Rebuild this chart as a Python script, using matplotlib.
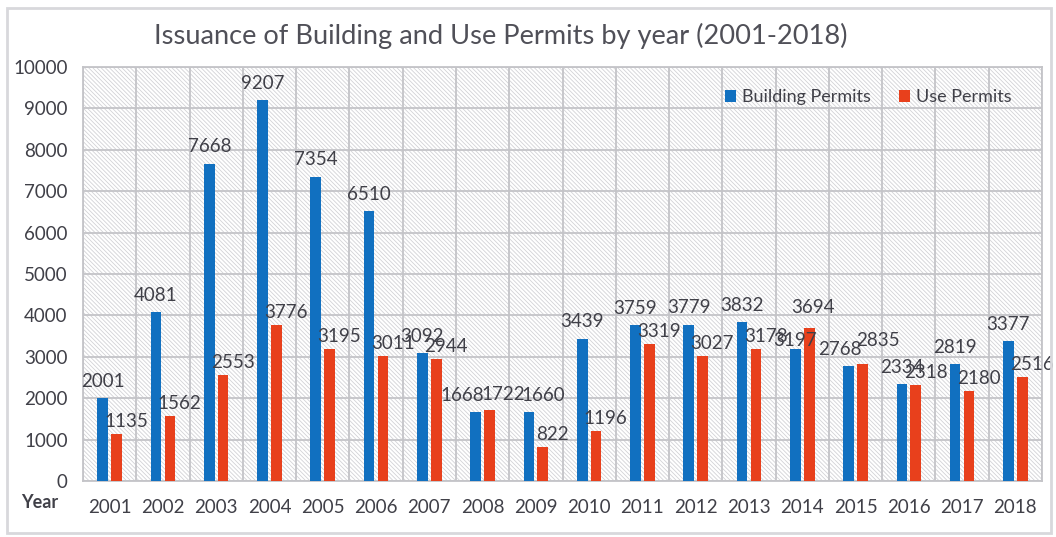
import numpy as np
import matplotlib.pyplot as plt
from matplotlib.patches import Rectangle

plt.rcParams['font.family'] = ['Lato', 'DejaVu Sans']
plt.rcParams['hatch.linewidth'] = 0.6

# data
years = [str(y) for y in range(2001, 2019)]
building = [2001, 4081, 7668, 9207, 7354, 6510, 3092, 1668, 1660,
            3439, 3759, 3779, 3832, 3197, 2768, 2334, 2819, 3377]
use = [1135, 1562, 2553, 3776, 3195, 3011, 2944, 1722, 822,
       1196, 3319, 3027, 3178, 3694, 2835, 2318, 2180, 2516]

txt = '#404048'
blue = '#1170c0'
red = '#e8401c'
gridc = '#c4c4c8'

# small hand nudges of a few crowded labels (points), as in the original
nudge_b = {'2008': (-10, 0), '2009': (10, 0), '2015': (-6, 0), '2014': (0, -6)}
nudge_r = {'2008': (3, 2), '2015': (4, 8), '2014': (-4, 6)}

fig = plt.figure(figsize=(10.56, 5.37), dpi=100)
ax = fig.add_axes([83/1056, 56/537, 959/1056, 414/537])

# outer frame of the chart
fig.patches.append(Rectangle((7/1056, 4/537), 1044/1056, 525/537,
                             transform=fig.transFigure, fill=False,
                             edgecolor='#d8d8dc', lw=2))

# hatched background
ax.add_patch(Rectangle((0, 0), 1, 1, transform=ax.transAxes, facecolor='white',
                       edgecolor='#d2d2d6', hatch='\\' * 8, lw=0, zorder=0))

x = np.arange(len(years))
w = 0.2
off = 0.13
ax.bar(x - off, building, w, color=blue, label='Building Permits', zorder=3)
ax.bar(x + off, use, w, color=red, label='Use Permits', zorder=3)

for xi, yr, v in zip(x, years, building):
    dx, dy = nudge_b.get(yr, (0, 0))
    ax.annotate(str(v), (xi - off, v), xytext=(dx, 12 + dy), textcoords='offset points',
                ha='center', va='center', fontsize=13.5, color=txt, zorder=4)
for xi, yr, v in zip(x, years, use):
    dx, dy = nudge_r.get(yr, (0, 0))
    ax.annotate(str(v), (xi + off, v), xytext=(7 + dx, 9 + dy), textcoords='offset points',
                ha='center', va='center', fontsize=13.5, color=txt, zorder=4)

ax.set_xlim(-0.5, len(years) - 0.5)
ax.set_ylim(0, 10000)
ax.set_yticks(range(0, 10001, 1000))
ax.set_xticks(x)
ax.set_xticklabels(years)
ax.set_xticks(np.arange(-0.5, len(years), 1), minor=True)
ax.tick_params(axis='both', length=0, labelsize=13.5, labelcolor=txt)
ax.tick_params(axis='x', which='major', pad=13)
ax.tick_params(axis='y', pad=11)
ax.tick_params(axis='x', which='minor', length=0)

ax.grid(axis='y', color=gridc, lw=1.3, zorder=1)
ax.grid(axis='x', which='minor', color=gridc, lw=1.3, zorder=1)
ax.grid(axis='x', which='major', visible=False)
for s in ax.spines.values():
    s.set_color(gridc)
    s.set_linewidth(1.3)

fig.text(40/1056, 1 - 503/537, 'Year', ha='center', va='center',
         fontsize=13, fontweight='bold', color=txt)

fig.text(501/1056, 1 - 36/537, 'Issuance of Building and Use Permits by year (2001-2018)',
         ha='center', va='center', fontsize=19.6, color='#505058')

ax.legend(loc='upper right', ncol=2, frameon=False, fontsize=13, labelcolor=txt,
          handlelength=0.6, handleheight=0.6, handletextpad=0.3, columnspacing=1.6,
          bbox_to_anchor=(0.985, 0.985))

fig.savefig('out.png', dpi=100)
